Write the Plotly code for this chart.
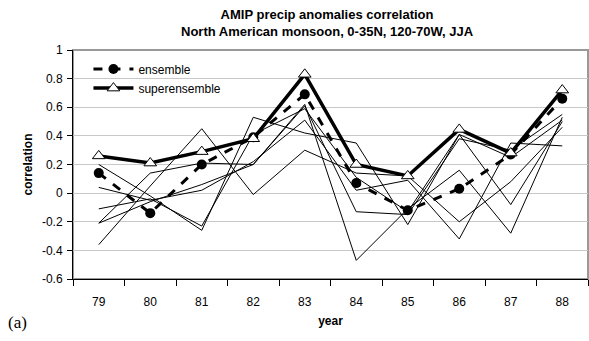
import plotly.graph_objects as go

years = ["79", "80", "81", "82", "83", "84", "85", "86", "87", "88"]
ensemble = [0.14, -0.14, 0.20, 0.39, 0.69, 0.07, -0.12, 0.03, 0.27, 0.66]
superensemble = [0.26, 0.21, 0.29, 0.38, 0.83, 0.20, 0.12, 0.445, 0.28, 0.72]

model1 = [0.20, -0.02, -0.26, 0.53, 0.42, 0.35, -0.22, 0.41, -0.08, 0.50]
model2 = [-0.36, 0.05, 0.45, -0.01, 0.30, 0.14, 0.12, -0.20, 0.08, 0.46]
model3 = [-0.21, 0.14, 0.21, 0.20, 0.62, -0.47, -0.11, 0.16, -0.28, 0.53]
model4 = [-0.21, -0.06, 0.06, 0.20, 0.61, -0.13, -0.15, 0.38, 0.30, 0.55]
model5 = [0.04, -0.05, 0.02, 0.22, 0.51, 0.02, 0.09, -0.32, 0.35, 0.33]
model6 = [-0.11, -0.04, -0.23, 0.41, 0.59, 0.11, -0.13, 0.41, 0.25, 0.51]
models = [model1, model2, model3, model4, model5, model6]

yticks = [1, 0.8, 0.6, 0.4, 0.2, 0, -0.2, -0.4, -0.6]

fig = go.Figure()
for m in models:
    fig.add_trace(go.Scatter(x=years, y=m, mode="lines",
                             line=dict(color="black", width=1),
                             showlegend=False, hoverinfo="skip"))

fig.add_trace(go.Scatter(x=years, y=ensemble, mode="lines+markers", name="ensemble",
                         line=dict(color="black", width=3, dash="dash"),
                         marker=dict(symbol="circle", size=10, color="black")))
fig.add_trace(go.Scatter(x=years, y=superensemble, mode="lines+markers", name="superensemble",
                         line=dict(color="black", width=3.5),
                         marker=dict(symbol="triangle-up", size=11, color="white",
                                     line=dict(color="black", width=1))))

font_family = "Liberation Sans, Arial, sans-serif"

fig.update_layout(
    width=589, height=341,
    margin=dict(l=73, r=1, t=50, b=62),
    paper_bgcolor="white", plot_bgcolor="white",
    font=dict(family=font_family, size=12, color="black"),
    showlegend=True,
    legend=dict(x=0.03, y=0.98, xanchor="left", yanchor="top",
                bgcolor="rgba(0,0,0,0)", borderwidth=0,
                font=dict(size=12), itemwidth=40, tracegroupgap=0),
    xaxis=dict(type="category", categoryorder="array", categoryarray=years,
               range=[-0.5, 9.5], tickson="boundaries", ticks="outside",
               ticklen=6, tickcolor="black", showline=True, linecolor="black",
               linewidth=1, showgrid=False, zeroline=False,
               tickfont=dict(size=12), ticklabelstandoff=12,
               title=dict(text="<b>year</b>", font=dict(size=12), standoff=8)),
    yaxis=dict(range=[-0.6, 1], tickvals=yticks, ticktext=[str(v) for v in yticks],
               ticks="outside", ticklen=5, tickcolor="black", showline=True,
               linecolor="black", linewidth=1, showgrid=True, gridcolor="#c8c8c8",
               gridwidth=1, zeroline=False, tickfont=dict(size=12), ticklabelstandoff=2,
               title=dict(text="<b>correlation</b>", font=dict(size=12), standoff=6)),
    shapes=[dict(type="rect", xref="paper", yref="paper", x0=0, x1=1, y0=0, y1=1,
                 line=dict(color="#999999", width=2), layer="below")],
    annotations=[
        dict(text="<b>AMIP precip anomalies correlation<br>North American monsoon, 0-35N, 120-70W, JJA</b>",
             xref="paper", yref="paper", x=0.495, y=1.118, xanchor="center", yanchor="middle",
             showarrow=False, font=dict(size=13, family=font_family)),
        dict(text="(a)", xref="paper", yref="paper", x=-0.13, y=-0.188,
             xanchor="left", yanchor="middle", showarrow=False,
             font=dict(family="Liberation Serif, Times New Roman, serif", size=17)),
    ],
)

fig.write_html("out.html")
